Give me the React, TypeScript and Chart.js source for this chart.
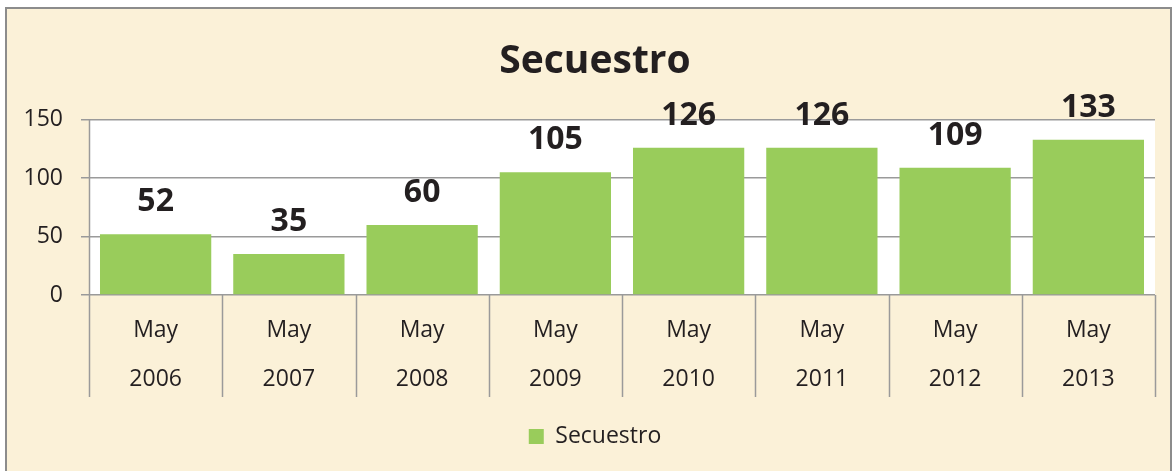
import React, { useEffect, useRef } from "react";
import { Chart, registerables } from "chart.js";

Chart.register(...registerables);

const months = ["May", "May", "May", "May", "May", "May", "May", "May"];
const years = ["2006", "2007", "2008", "2009", "2010", "2011", "2012", "2013"];
const secuestro = [52, 35, 60, 105, 126, 126, 109, 133];
const yTicks = [0, 50, 100, 150];

const FONT = "'Open Sans', 'DejaVu Sans', sans-serif";
const TEXT = "#231f20";
const GREEN = "#99cc5b";
const GRID = "#9a9a9a";
const CREAM = "#fbf1d8";

const framePlugin = {
  id: "frame",
  beforeDraw(chart: any) {
    const { ctx, chartArea, width, height } = chart;
    ctx.save();
    ctx.fillStyle = "#ffffff";
    ctx.fillRect(0, 0, width, height);
    ctx.fillStyle = CREAM;
    ctx.fillRect(6, 8, width - 9, height);
    ctx.strokeStyle = "#8c8c8c";
    ctx.lineWidth = 2;
    ctx.strokeRect(6, 8, width - 9, height + 10);
    ctx.fillStyle = "#ffffff";
    ctx.fillRect(chartArea.left, chartArea.top, chartArea.right - chartArea.left, chartArea.bottom - chartArea.top);
    ctx.restore();
  },
  afterDraw(chart: any) {
    const { ctx, chartArea } = chart;
    const xs = chart.scales.x;
    const n = xs.ticks.length;
    const step = (chartArea.right - chartArea.left) / n;
    ctx.save();
    ctx.strokeStyle = GRID;
    ctx.lineWidth = 1.5;
    for (let i = 0; i <= n; i++) {
      const x = Math.round(chartArea.left + i * step) + 0.5;
      ctx.beginPath();
      ctx.moveTo(x, chartArea.bottom);
      ctx.lineTo(x, chartArea.bottom + 102);
      ctx.stroke();
    }
    ctx.beginPath();
    ctx.moveTo(chartArea.left + 0.5, chartArea.top);
    ctx.lineTo(chartArea.left + 0.5, chartArea.bottom);
    ctx.stroke();
    ctx.restore();
  },
  afterDatasetsDraw(chart: any) {
    const { ctx } = chart;
    const meta = chart.getDatasetMeta(0);
    ctx.save();
    ctx.fillStyle = TEXT;
    ctx.font = `bold 32px ${FONT}`;
    ctx.textAlign = "center";
    ctx.textBaseline = "alphabetic";
    meta.data.forEach((bar: any, i: number) => {
      ctx.fillText(String(secuestro[i]), bar.x, bar.y - 23);
    });
    ctx.restore();
  },
};

export default function App() {
  const ref = useRef<HTMLCanvasElement | null>(null);
  useEffect(() => {
    document.body.style.margin = "0";
    const canvas = ref.current;
    if (!canvas) return;
    const chart = new Chart(canvas, {
      type: "bar",
      data: {
        labels: months.map((m, i) => [m, years[i]]),
        datasets: [
          {
            label: "Secuestro",
            data: secuestro,
            backgroundColor: GREEN,
            borderWidth: 0,
            categoryPercentage: 1,
            barPercentage: 0.835,
          },
        ],
      },
      options: {
        responsive: false,
        animation: false,
        layout: { padding: { left: 0, right: -16, top: 0, bottom: 13 } },
        plugins: {
          title: {
            display: true,
            text: "Secuestro",
            color: TEXT,
            font: { family: FONT, size: 39, weight: "bold" },
            padding: { top: 38, bottom: 35 },
          },
          legend: {
            display: true,
            position: "bottom",
            labels: {
              color: TEXT,
              font: { family: FONT, size: 23 },
              boxWidth: 15,
              boxHeight: 15,
              padding: 10,
            },
          },
          tooltip: { enabled: false },
        },
        scales: {
          x: {
            grid: { display: false, drawTicks: false },
            border: { display: false },
            ticks: {
              color: TEXT,
              font: { family: FONT, size: 23, lineHeight: 2.17 },
              padding: 10,
              maxRotation: 0,
              autoSkip: false,
            },
            afterFit(scale: any) {
              scale.height = 120;
            },
          },
          y: {
            min: 0,
            max: 150,
            afterBuildTicks(scale: any) {
              scale.ticks = yTicks.map((v) => ({ value: v }));
            },
            grid: { color: GRID, lineWidth: 1.5, tickLength: 8, drawTicks: true },
            border: { display: false },
            ticks: {
              color: TEXT,
              font: { family: FONT, size: 23 },
              padding: 18,
            },
            afterFit(scale: any) {
              scale.width = 89;
            },
          },
          spacer: {
            type: "linear",
            position: "right",
            display: true,
            grid: { display: false, drawTicks: false },
            border: { display: false },
            ticks: { display: false },
            afterFit(scale: any) {
              scale.width = 35;
            },
          },
        },
      },
      plugins: [framePlugin],
    } as any);
    return () => chart.destroy();
  }, []);
  return (
    <div style={{ width: 1174, height: 471 }}>
      <canvas ref={ref} width={1174} height={471} style={{ display: "block" }} />
    </div>
  );
}
